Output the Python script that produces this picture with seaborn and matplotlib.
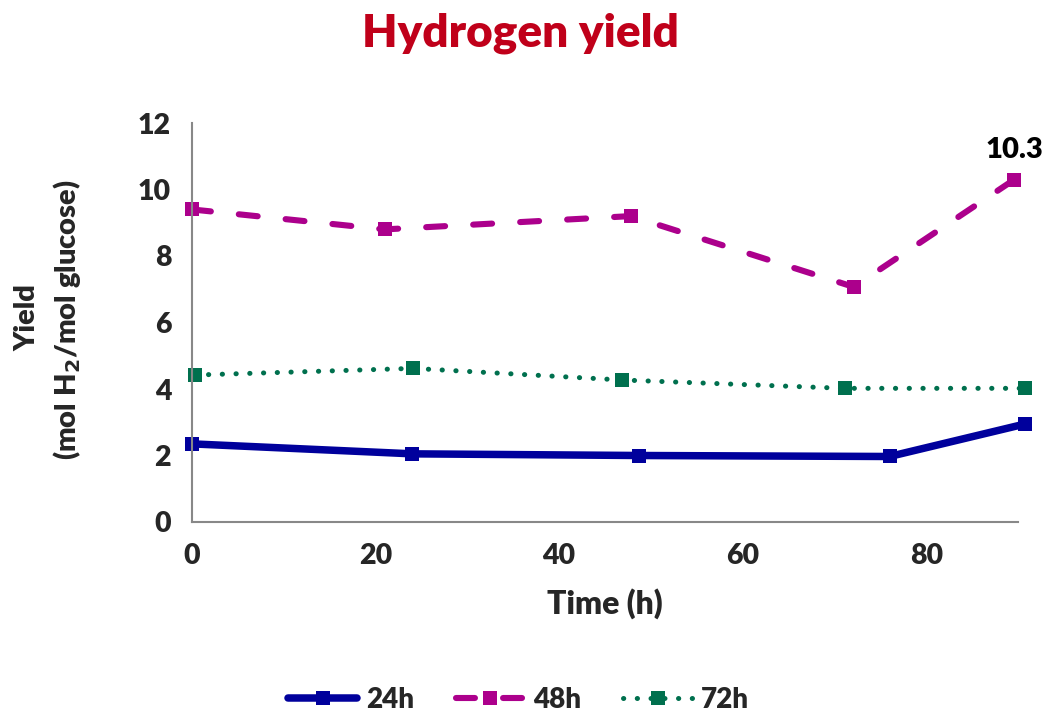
import matplotlib
matplotlib.use("Agg")
import matplotlib.pyplot as plt
import seaborn as sns
import pandas as pd

# Series data: sampling time (h) and hydrogen yield (mol H2 / mol glucose)
time_24h = [0, 24, 48.7, 76, 90.8]
yield_24h = [2.35, 2.05, 2.0, 1.97, 2.95]

time_48h = [0, 21, 47.8, 72.1, 89.6]
yield_48h = [9.4, 8.8, 9.2, 7.07, 10.3]

time_72h = [0.3, 24.1, 46.9, 71.1, 90.8]
yield_72h = [4.42, 4.62, 4.27, 4.02, 4.02]

series_names = ["24h", "48h", "72h"]
x_ticks = [0, 20, 40, 60, 80]
y_ticks = [0, 2, 4, 6, 8, 10, 12]

sns.set_theme(style="white")
plt.rcParams["font.family"] = ["Lato", "DejaVu Sans"]
plt.rcParams["font.weight"] = "heavy"

W = "heavy"

fig = plt.figure(figsize=(10.54, 7.19), dpi=100)
ax = fig.add_axes([192 / 1054, 1 - 522 / 719, 826 / 1054, 399 / 719])

colors = {"24h": "#00009C", "48h": "#AC008C", "72h": "#00704E"}
series = {
    "24h": (time_24h, yield_24h),
    "48h": (time_48h, yield_48h),
    "72h": (time_72h, yield_72h),
}
line_widths = {"24h": 5.4, "48h": 4.4, "72h": 3.6}

handles = []
for name in series_names:
    xs, ys = series[name]
    df = pd.DataFrame({"Time": xs, "Yield": ys})
    sns.lineplot(data=df, x="Time", y="Yield", ax=ax, sort=False,
                 color=colors[name], marker="s", markersize=10,
                 markeredgewidth=0, linewidth=line_widths[name],
                 label=name, clip_on=False)
    line = ax.lines[-1]
    if name == "48h":
        line.set_dashes((3.1, 4.6))
        line.set_dash_capstyle("round")
    elif name == "72h":
        line.set_dashes((0.05, 2.7))
        line.set_dash_capstyle("round")
    else:
        line.set_solid_capstyle("round")
    handles.append(line)

# Value label on the last 48h point
ax.annotate(f"{yield_48h[-1]:.1f}", (time_48h[-1], yield_48h[-1]),
            xytext=(0, 12), textcoords="offset points", ha="center",
            va="bottom", fontsize=21, fontweight=W, color="black")

ax.set_xlim(0, 90)
ax.set_ylim(0, 12)
ax.set_xticks(x_ticks)
ax.set_yticks(y_ticks)
ax.tick_params(axis="both", which="major", direction="out", length=9,
               width=1.5, color="#888888", labelsize=20.5, pad=6)
for lab in ax.get_xticklabels() + ax.get_yticklabels():
    lab.set_fontweight(W)

for side in ["top", "right"]:
    ax.spines[side].set_visible(False)
for side in ["left", "bottom"]:
    ax.spines[side].set_color("#888888")
    ax.spines[side].set_linewidth(1.5)

ax.set_xlabel("Time (h)", fontsize=23, fontweight=W, labelpad=14)
ax.set_ylabel("")
fig.text(0.026, 1 - 318 / 719, "Yield", rotation=90, ha="center",
         va="center", fontsize=21, fontweight=W)
fig.text(0.064, 1 - 320 / 719, r"(mol H$_\mathbf{2}$/mol glucose)",
         rotation=90, ha="center", va="center", fontsize=21,
         fontweight=W)

fig.text(0.494, 1 - 33 / 719, "Hydrogen yield", ha="center", va="center",
         fontsize=33, fontweight=W, color="#C0001A")

ax.legend(handles=handles, labels=series_names, loc="center",
          bbox_to_anchor=(0.492, 1 - 700 / 719), bbox_transform=fig.transFigure,
          ncol=3, frameon=False, handlelength=2.5,
          columnspacing=1.5, handletextpad=0.3,
          prop={"weight": W, "size": 20})

fig.savefig("out.png", dpi=100, facecolor="white")
